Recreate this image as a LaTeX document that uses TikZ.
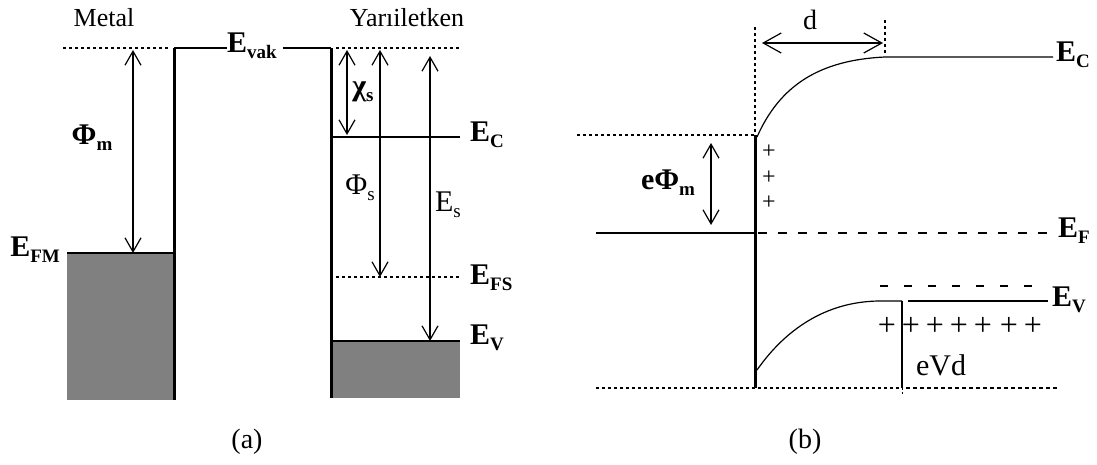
\documentclass[tikz,border=0pt]{standalone}
\usepackage{fontspec}
\setmainfont{Liberation Serif}
\usetikzlibrary{arrows.meta}
\definecolor{bandgray}{HTML}{808080}
\newcommand{\elab}[2]{#1\raisebox{-0.45ex}{\fontsize{19}{21}\selectfont #2}}

\begin{document}
\begin{tikzpicture}[x=1pt, y=-1pt,
  lev/.style={line width=1.4pt},
  wall/.style={line width=3pt},
  dotln/.style={line width=2.2pt, dash pattern=on 3pt off 3pt},
  dbl/.style={line width=1.2pt, {Straight Barb[length=14pt,width=16pt]}-{Straight Barb[length=14pt,width=16pt]}},
  lab/.style={font=\fontsize{30}{34}\selectfont\bfseries, inner sep=0pt},
  txt/.style={font=\fontsize{26}{30}\selectfont, inner sep=0pt},
  small/.style={font=\fontsize{28}{32}\selectfont, inner sep=0pt},
  band/.style={fill=bandgray, draw=none}]

  \useasboundingbox (0,0) rectangle (1097,464);

  % (a) metal side
  \node[txt] (metal) at (104,18) {Metal};
  \coordinate (mtop) at (174,48);
  \coordinate (mbot) at (174,400);
  \coordinate (vacL) at (63,48);
  \coordinate (vacR) at (168,48);
  \coordinate (efmL) at (67,253);
  \coordinate (efmR) at (174,253);
  \fill[band] (efmL) rectangle (mbot);
  \draw[lev] (efmL) -- (efmR);
  \draw[dotln] (vacL) -- (vacR);
  \draw[wall] (mtop) -- (mbot);
  \node[lab, anchor=east] (efm) at (60,250) {\elab{E}{FM}};
  \coordinate (phimT) at (133,50);
  \coordinate (phimB) at (133,253);
  \draw[dbl] (phimT) -- (phimB);
  \node[lab] (phim) at (92,138) {\elab{Φ}{m}};
  \node[lab, anchor=west] (evak) at (227,46) {\elab{E}{vak}};
  \draw[lev] (mtop) -- (evak.west |- mtop);

  % (a) semiconductor side
  \node[txt] (semi) at (407,18) {Yarıiletken};
  \coordinate (stop) at (331,48);
  \coordinate (sbot) at (331,398);
  \coordinate (vac2L) at (336,48);
  \coordinate (vac2R) at (460,48);
  \draw[lev, shorten <=6pt] (evak.east |- stop) -- (stop);
  \coordinate (ecL) at (331,137);
  \coordinate (ecR) at (460,137);
  \coordinate (efsL) at (336,277);
  \coordinate (efsR) at (460,277);
  \coordinate (evL) at (331,341);
  \coordinate (evR) at (460,341);
  \coordinate (bandR) at (460,398);
  \fill[band] (evL) rectangle (bandR);
  \draw[wall] (stop) -- (sbot);
  \draw[dotln] (vac2L) -- (vac2R);
  \draw[line width=2.6pt] (ecL) -- (ecR);
  \draw[dotln] (efsL) -- (efsR);
  \draw[line width=2pt] (evL) -- (evR);
  \node[lab, anchor=west] (eca) at (470,135) {\elab{E}{C}};
  \node[lab, anchor=west] (efs) at (470,278) {\elab{E}{FS}};
  \node[lab, anchor=west] (eva) at (470,338) {\elab{E}{V}};
  \coordinate (chiT) at (347,50);
  \coordinate (chiB) at (347,135);
  \coordinate (phisT) at (380,50);
  \coordinate (phisB) at (380,277);
  \coordinate (esT) at (430,56);
  \coordinate (esB) at (430,341);
  \draw[dbl] (chiT) -- (chiB);
  \draw[dbl] (phisT) -- (phisB);
  \draw[dbl] (esT) -- (esB);
  \node[lab] (chis) at (363,92) {\elab{χ}{s}};
  \node[font=\fontsize{30}{34}\selectfont, inner sep=0pt] (phis) at (360,188) {\elab{Φ}{s}};
  \node[font=\fontsize{30}{34}\selectfont, inner sep=0pt] (es) at (448,205) {\elab{E}{s}};
  \node[small] (capa) at (247,442) {(a)};

  % (b) band bending
  \coordinate (wallT) at (755,135);
  \coordinate (wallB) at (755,388);
  \coordinate (wallD) at (755,27);
  \coordinate (metL) at (577,135);
  \draw[dotln] (wallD) -- (wallT);
  \draw[dotln] (metL) -- (wallT);
  \draw[wall] (wallT) -- (wallB);
  \coordinate (ecbL) at (757,137);
  \coordinate (ecbK) at (885,57);
  \coordinate (ecbR) at (1053,57);
  \draw[lev, line width=1.2pt] (ecbL) .. controls (780,85) and (820,60) .. (ecbK) -- (ecbR);
  \node[lab, anchor=west] (ecb) at (1056,55) {\elab{E}{C}};
  \coordinate (ddT) at (885,20);
  \coordinate (ddB) at (885,55);
  \draw[dotln] (ddT) -- (ddB);
  \coordinate (dL) at (762,43);
  \coordinate (dR) at (883,43);
  \draw[line width=1.2pt, {Straight Barb[length=18pt,width=20pt]}-{Straight Barb[length=18pt,width=20pt]}] (dL) -- (dR);
  \node[small] (dlab) at (810,20) {d};
  \coordinate (ephT) at (711,143);
  \coordinate (ephB) at (711,225);
  \draw[dbl] (ephT) -- (ephB);
  \node[lab] (ephim) at (668,183) {e\elab{Φ}{m}};
  \foreach \py in {152,178,203}
    \node[font=\fontsize{24}{26}\selectfont, inner sep=0pt] at (769,\py) {+};
  \coordinate (efbL) at (596,233);
  \coordinate (efbM) at (758,233);
  \coordinate (efbR) at (1047,233);
  \draw[lev] (efbL) -- (wallT |- efbL);
  \draw[line width=2.5pt, dash pattern=on 9pt off 11pt] (efbM) -- (efbR);
  \node[lab, anchor=west] (efb) at (1058,231) {\elab{E}{F}};
  \coordinate (evbL) at (757,370);
  \coordinate (evbK) at (878,301);
  \coordinate (vdT) at (902,301);
  \coordinate (vdB) at (902,388);
  \coordinate (vdE) at (902,395);
  \coordinate (evbM) at (908,301);
  \coordinate (evbR) at (1048,301);
  \draw[lev, line width=1.2pt] (evbL) .. controls (785,330) and (825,302) .. (evbK) -- (vdT);
  \draw[lev] (evbM) -- (evbR);
  \node[lab, anchor=west] (evb) at (1052,300) {\elab{E}{V}};
  \coordinate (dashL) at (880,286);
  \coordinate (dashR) at (1034,286);
  \draw[line width=1.3pt, dash pattern=on 8pt off 16pt] (dashL) -- (dashR);
  \foreach \px in {887,911,935,959,983,1009,1033}
    \node[font=\fontsize{32}{34}\selectfont, inner sep=0pt] at (\px,326) {+};
  \draw[lev] (vdT) -- (vdB);
  \draw[line width=1pt, dash pattern=on 2pt off 2pt] (vdB) -- (vdE);
  \node[font=\fontsize{30}{34}\selectfont, inner sep=0pt] (evd) at (941,365) {eVd};
  \coordinate (botL) at (596,388);
  \coordinate (botM) at (900,388);
  \coordinate (botN) at (906,388);
  \coordinate (botR) at (1057,388);
  \draw[dotln] (botL) -- (botM);
  \draw[line width=1.2pt, dash pattern=on 4pt off 3pt] (botN) -- (botR);
  \node[small] (capb) at (805,442) {(b)};

\end{tikzpicture}
\end{document}
